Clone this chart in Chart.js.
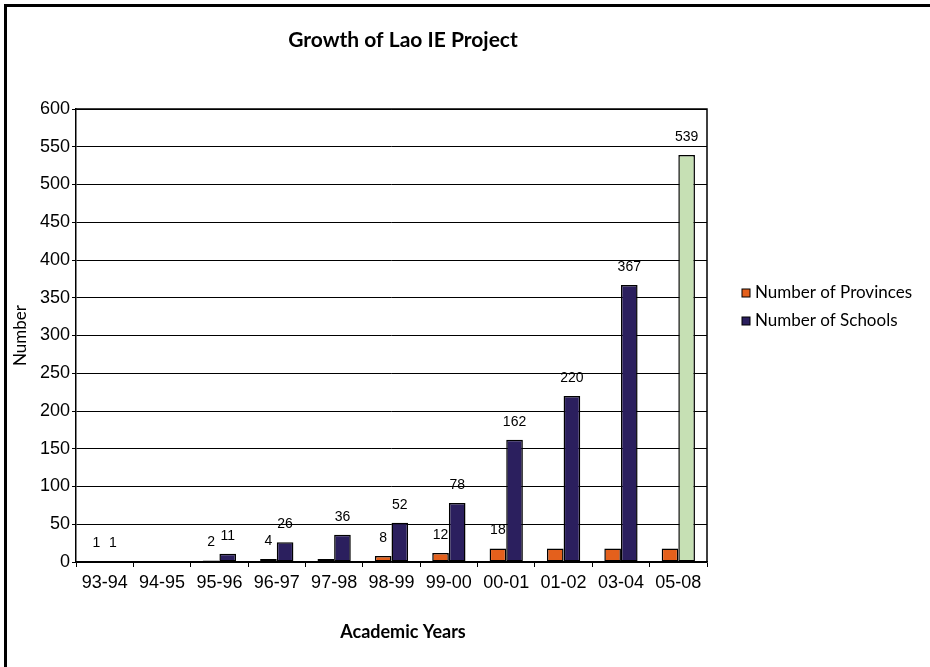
<!DOCTYPE html>
<html>
<head>
<meta charset="utf-8">
<script src="https://cdn.jsdelivr.net/npm/chart.js@4"></script>
<style>
  html, body { margin: 0; padding: 0; background: #fff; overflow: hidden; }
  #wrap { position: relative; width: 930px; height: 667px; }
  #frame { position: absolute; left: 4px; top: 4px; width: 1000px; height: 1000px;
           border-left: 3px solid #000; border-top: 3px solid #000; pointer-events: none; }
</style>
</head>
<body>
<div id="wrap">
  <canvas id="chart" width="930" height="667"></canvas>
  <div id="frame"></div>
</div>
<script>
const canvas = document.getElementById('chart');

const years = ['93-94', '94-95', '95-96', '96-97', '97-98', '98-99',
               '99-00', '00-01', '01-02', '03-04', '05-08'];

const provinces = [1, 0, 2, 4, 4, 8, 12, 18, 18, 18, 18];
const schools = [1, 0, 11, 26, 36, 52, 78, 162, 220, 367, 539];

// welche Werte beschriftet sind (leer = keine Beschriftung)
const provinceLabels = ['1', '', '2', '4', '', '8', '12', '18', '', '', ''];
const schoolLabels = ['1', '', '11', '26', '36', '52', '78', '162', '220', '367', '539'];

const yTicks = [0, 50, 100, 150, 200, 250, 300, 350, 400, 450, 500, 550, 600];

const orange = '#E4601C';
const navy = '#2B1F5E';
const green = '#C6E0B4';

const tickFont = "'Liberation Sans', Arial, sans-serif";
const titleFont = "Lato, 'Open Sans', sans-serif";

// Balken 05-08 bei den Schulen hell grün
const schoolColors = schools.map((v, i) => i === schools.length - 1 ? green : navy);

const extras = {
  id: 'extras',
  beforeDraw(chart) {
    const ctx = chart.ctx;
    ctx.save();
    ctx.fillStyle = '#fff';
    ctx.fillRect(0, 0, chart.width, chart.height);
    ctx.restore();
  },
  afterDraw(chart) {
    const ctx = chart.ctx;
    const area = chart.chartArea;
    ctx.save();

    // Rahmen oben/rechts
    ctx.strokeStyle = '#000';
    ctx.lineWidth = 1.5;
    ctx.beginPath();
    ctx.moveTo(area.left, area.top);
    ctx.lineTo(area.right, area.top);
    ctx.lineTo(area.right, area.bottom);
    ctx.stroke();

    // Wertbeschriftungen
    ctx.fillStyle = '#000';
    ctx.font = "14px 'Liberation Sans', Arial, sans-serif";
    ctx.textAlign = 'center';
    ctx.textBaseline = 'alphabetic';
    const lbls = [provinceLabels, schoolLabels];
    chart.data.datasets.forEach((ds, di) => {
      chart.getDatasetMeta(di).data.forEach((bar, i) => {
        const t = lbls[di][i];
        if (t) ctx.fillText(t, bar.x, bar.y - 14);
      });
    });

    // Titel
    ctx.font = 'bold 21px ' + titleFont;
    ctx.fillText('Growth of Lao IE Project', 403, 47);
    ctx.font = 'bold 18px ' + titleFont;
    ctx.fillText('Academic Years', 403, 638);

    // Legende
    ctx.font = '17px ' + titleFont;
    ctx.textAlign = 'left';
    ctx.textBaseline = 'middle';
    const legendColors = [orange, navy];
    chart.data.datasets.forEach((ds, di) => {
      const y = 293 + di * 28;
      ctx.fillStyle = legendColors[di];
      ctx.fillRect(742, y - 4, 8, 8);
      ctx.strokeStyle = '#000';
      ctx.lineWidth = 1;
      ctx.strokeRect(742, y - 4, 8, 8);
      ctx.fillStyle = '#000';
      ctx.fillText(ds.label, 755, y);
    });
    ctx.restore();
  }
};

new Chart(canvas, {
  type: 'bar',
  data: {
    labels: years,
    datasets: [
      {
        label: 'Number of Provinces',
        data: provinces,
        backgroundColor: orange,
        borderColor: '#000',
        borderWidth: 1.5,
        borderSkipped: false,
        categoryPercentage: 0.58,
        barPercentage: 1.0
      },
      {
        label: 'Number of Schools',
        data: schools,
        backgroundColor: schoolColors,
        borderColor: '#000',
        borderWidth: 1.5,
        borderSkipped: false,
        categoryPercentage: 0.58,
        barPercentage: 1.0
      }
    ]
  },
  options: {
    responsive: false,
    animation: false,
    layout: { padding: { top: 109, right: 223, bottom: 0, left: 0 } },
    plugins: {
      legend: { display: false },
      title: { display: false },
      tooltip: { enabled: false }
    },
    scales: {
      x: {
        grid: {
          offset: true,
          drawOnChartArea: false,
          drawTicks: true,
          tickLength: 5,
          color: '#000',
          lineWidth: 1
        },
        border: { color: '#000', width: 1.5 },
        ticks: {
          color: '#000',
          font: { family: tickFont, size: 18 },
          padding: 5,
          maxRotation: 0,
          autoSkip: false
        },
        afterFit(scale) { scale.height = 105; }
      },
      y: {
        min: 0,
        max: 600,
        afterBuildTicks(scale) {
          scale.ticks = yTicks.map(v => ({ value: v }));
        },
        grid: {
          color: '#000',
          lineWidth: 1,
          drawTicks: true,
          tickLength: 4
        },
        border: { color: '#000', width: 1.5 },
        ticks: {
          color: '#000',
          font: { family: tickFont, size: 18 },
          padding: 2
        },
        title: {
          display: true,
          text: 'Number',
          color: '#000',
          font: { family: titleFont, size: 17 },
          padding: { top: 10, bottom: 0 }
        },
        afterFit(scale) { scale.width = 76; }
      }
    }
  },
  plugins: [extras]
});
</script>
</body>
</html>
